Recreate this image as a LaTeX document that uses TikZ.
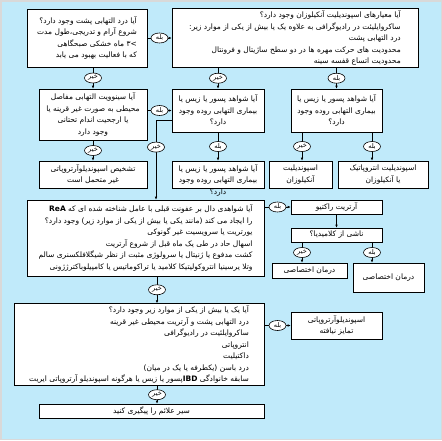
\documentclass[tikz,border=0pt]{standalone}
\usepackage{fontspec}
\newfontfamily\arfont[Script=Arabic]{DejaVu Sans}
\TeXXeTstate=1
\usetikzlibrary{shapes.geometric, arrows.meta}
\definecolor{bgblue}{RGB}{192,234,250}
\newcommand{\rtl}[1]{\beginR #1\endR}

\tikzset{
  qbox/.style={draw, fill=white, inner sep=2pt, align=center, font=\arfont\fontsize{7.5}{11.5}\selectfont},
  qtext/.style={inner sep=2pt, align=center, font=\arfont\fontsize{7.5}{11.5}\selectfont},
  ans/.style={ellipse, draw, fill=white, inner sep=0.3pt, minimum width=17, minimum height=10, font=\arfont\fontsize{6.5}{7}\selectfont},
  arr/.style={-{Latex[length=3pt,width=2.6pt]}},
}

\begin{document}
\begin{tikzpicture}[x=1pt, y=-1pt, line width=0.6pt]
  % background
  \fill[bgblue] (0,0) rectangle (442,440);
  \draw[gray!30, line width=1.5pt] (0.75,0.75) rectangle (441.25,439.25);

  % first row
  \node[qbox, align=right, minimum width=120, minimum height=58] (A) at (87,38)
    {\rtl{آیا درد التهابی پشت وجود دارد؟}\\ \rtl{شروع آرام و تدریجی،طول مدت}\\ \rtl{>۳ ماه خشکی صبحگاهی}\\ \rtl{که با فعالیت بهبود می یابد}};
  \node[qbox, align=right, minimum width=246, minimum height=58] (B) at (295,38)
    {\rtl{آیا معیارهای اسپوندیلیت آنکیلوزان وجود دارد؟}\\ \rtl{ساکروایلیئت در رادیوگرافی به علاوه یک یا بیش از یکی از موارد زیر:}\\ \rtl{درد التهابی پشت}\\ \rtl{محدودیت های حرکت مهره ها در دو سطح ساژیتال و فرونتال}\\ \rtl{محدودیت اتساع قفسه سینه}};

  % second row
  \node[qbox, minimum width=108, minimum height=51] (C) at (93,114.5)
    {\rtl{آیا سینوویت التهابی مفاصل}\\ \rtl{محیطی به صورت غیر قرینه یا}\\ \rtl{یا ارجحیت اندام تحتانی}\\ \rtl{وجود دارد}};
  \node[qbox, minimum width=92, minimum height=43] (D) at (218,110.5)
    {\rtl{آیا شواهد پسور یا زیس یا}\\ \rtl{بیماری التهابی روده وجود}\\ \rtl{دارد؟}};
  \node[qbox, minimum width=91, minimum height=43] (F) at (336.5,110.5)
    {\rtl{آیا شواهد پسور یا زیس یا}\\ \rtl{بیماری التهابی روده وجود}\\ \rtl{دارد؟}};

  % third row
  \node[qbox, minimum width=108, minimum height=27] (E) at (93,174.5)
    {\rtl{تشخیص اسپوندیلوآرتروپاتی}\\ \rtl{غیر متحمل است}};
  \node[qbox, minimum width=92, minimum height=27] (D2) at (218,174.5) {};
  \node[qtext] (D2t) at (218,180)
    {\rtl{آیا شواهد پسور یا زیس یا}\\ \rtl{بیماری التهابی روده وجود}\\ \rtl{دارد؟}};
  \node[qbox, minimum width=63, minimum height=27] (G) at (300.5,174.5)
    {\rtl{اسپوندیلیت}\\ \rtl{آنکیلوزان}};
  \node[qbox, minimum width=90, minimum height=27] (H) at (383,174.5)
    {\rtl{اسپوندیلیت انتروپاتیک}\\ \rtl{یا آنکیلوزان}};

  % reactive arthritis
  \node[qbox, align=right, minimum width=237, minimum height=76] (I) at (145.5,238)
    {\rtl{آیا شواهدی دال بر عفونت قبلی با عامل شناخته شده ای که {\bfseries ReA}}\\
     \rtl{را ایجاد می کند (مانند یکی یا بیش از یکی از موارد زیر) وجود دارد؟}\\
     \rtl{یورتریت یا سرویسیت غیر گونوکی}\\
     \rtl{اسهال حاد در طی یک ماه قبل از شروع آرتریت}\\
     \rtl{کشت مدفوع یا ژنیتال یا سرولوژی مثبت از نظر شیگلافلکسنری سالم}\\
     \rtl{وتلا یرسینیا انتروکولیتیکا کلامید یا تراکوماتیس یا کامپیلوباکترژژونی}};
  \node[qbox, minimum width=91, minimum height=14] (J) at (336.5,207) {\rtl{آرتریت راکتیو}};
  \node[qbox, minimum width=91, minimum height=14] (K) at (336.5,235) {\rtl{ناشی از کلامیدیا؟}};
  \node[qbox, minimum width=75, minimum height=15] (L) at (309.5,270.5) {\rtl{درمان اختصاصی}};
  \node[qbox, minimum width=71, minimum height=29] (M) at (388.5,277.5) {\rtl{درمان اختصاصی}};

  % undifferentiated
  \node[qbox, align=right, minimum width=250, minimum height=75] (N) at (139,344.5)
    {\rtl{آیا یک یا بیش از یکی از موارد زیر وجود دارد؟}\\
     \rtl{درد التهابی پشت و آرتریت محیطی غیر قرینه}\\
     \rtl{ساکروایلئیت در رادیوگرافی}\\
     \rtl{انتروپاتی}\\
     \rtl{داکتیلیت}\\
     \rtl{درد باسن (یکطرفه یا یک در میان)}\\
     \rtl{سابقه خانوادگی {\bfseries IBD}پسور یا زیس یا هرگونه اسپوندیلو آرتروپاتی ایریت}};
  \node[qbox, minimum width=91, minimum height=27] (O) at (336.5,325.5)
    {\rtl{اسپوندیلوآرتروپاتی}\\ \rtl{تمایز نیافته}};
  \node[qbox, minimum width=225, minimum height=14] (P) at (151.5,411) {\rtl{سیر علائم را پیگیری کنید}};

  % connectors
  \coordinate (fg) at ([xshift=-34.5pt]F.south);
  \coordinate (fh) at ([xshift=35.5pt]F.south);
  \coordinate (kl) at ([xshift=-34.5pt]K.south);
  \coordinate (km) at ([xshift=35.5pt]K.south);
  \coordinate (in) at ([xshift=11.5pt]I.south);
  \coordinate (np) at ([xshift=18pt]N.south);
  \coordinate (dn) at ([yshift=-9.5pt]D.west);
  \coordinate (di) at ([xshift=10.5pt]I.north);

  \draw[arr] (A) -- node[ans] {\rtl{بله}} (B);
  \draw[arr] (A.south -| C) -- node[ans] {\rtl{خیر}} (C.north);
  \draw[arr] (C.east |- D) -- node[ans] {\rtl{بله}} (D.west);
  \draw[arr] (C) -- node[ans] {\rtl{خیر}} (E);
  \draw[arr] (B.south -| D) -- node[ans] {\rtl{خیر}} (D.north);
  \draw[arr] (B.south -| F) -- node[ans] {\rtl{بله}} (F.north);
  \draw[arr] (D) -- node[ans] {\rtl{بله}} (D2);
  \draw[arr] (dn) -| node[ans, pos=0.67] {\rtl{خیر}} (di);
  \draw[arr] (fg) -- node[ans] {\rtl{خیر}} (fg |- G.north);
  \draw[arr] (fh) -- node[ans] {\rtl{بله}} (fh |- H.north);
  \draw[arr] (I.east |- J) -- node[ans] {\rtl{بله}} (J.west);
  \draw[arr] (J) -- (K);
  \draw[arr] (kl) -- node[ans] {\rtl{خیر}} (kl |- L.north);
  \draw[arr] (km) -- node[ans] {\rtl{بله}} (km |- M.north);
  \draw[arr] (in) -- node[ans] {\rtl{خیر}} (in |- N.north);
  \draw[arr] (N.east |- O) -- node[ans] {\rtl{بله}} (O.west);
  \draw[arr] (np) -- node[ans] {\rtl{خیر}} (np |- P.north);
\end{tikzpicture}
\end{document}
